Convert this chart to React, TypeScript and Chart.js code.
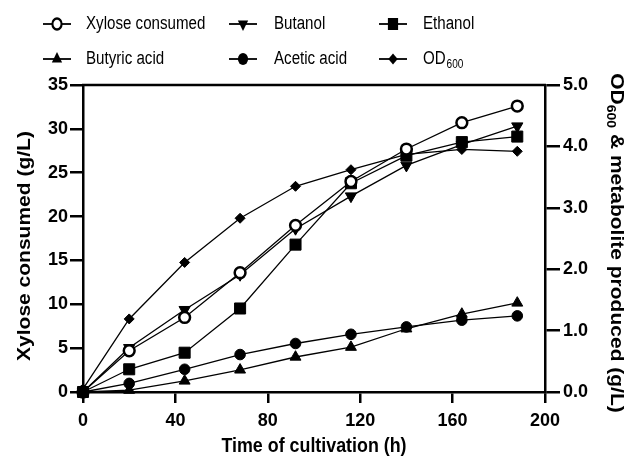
import React, { useEffect, useRef } from 'react';
import { Chart, registerables } from 'chart.js';

Chart.register(...registerables);

// ---- data ----
const hours = [0, 20, 44, 68, 92, 116, 140, 164, 188];
const xyloseConsumed = [0, 4.7, 8.5, 13.6, 19.0, 24.0, 27.7, 30.7, 32.6]; // left axis g/L
const butanol = [0, 0.72, 1.34, 1.91, 2.66, 3.19, 3.69, 4.03, 4.33]; // right axis
const ethanol = [0, 0.37, 0.64, 1.36, 2.4, 3.4, 3.85, 4.07, 4.16];
const butyricAcid = [0, 0.03, 0.18, 0.36, 0.57, 0.73, 1.03, 1.27, 1.45];
const aceticAcid = [0, 0.14, 0.37, 0.61, 0.79, 0.94, 1.06, 1.17, 1.24];
const od600 = [0.05, 1.19, 2.11, 2.83, 3.35, 3.62, 3.87, 3.95, 3.92];

const xTickValues = [0, 40, 80, 120, 160, 200];
const leftTickValues = [0, 5, 10, 15, 20, 25, 30, 35];
const rightTickValues = [0, 1, 2, 3, 4, 5];

const seriesLabels = ['Xylose consumed', 'Butanol', 'Ethanol', 'Butyric acid', 'Acetic acid', 'OD'];
const seriesMarkers = ['openCircle', 'downTri', 'square', 'upTri', 'circle', 'diamond'];

const xTitle = 'Time of cultivation (h)';
const leftTitle = 'Xylose consumed (g/L)';
const rightTitleMain = 'OD';
const rightTitleSub = '600';
const rightTitleRest = ' & metabolite produced (g/L)';

const FONT = 'Arial, "Liberation Sans", Helvetica, sans-serif';
const SQUEEZE = 0.85;

function drawMarker(ctx: CanvasRenderingContext2D, kind: string, x: number, y: number) {
  ctx.save();
  ctx.translate(x, y);
  ctx.scale(SQUEEZE, 1);
  ctx.fillStyle = '#000';
  ctx.strokeStyle = '#000';
  ctx.beginPath();
  if (kind === 'openCircle') {
    ctx.arc(0, 0, 5.4, 0, Math.PI * 2);
    ctx.fillStyle = '#fff';
    ctx.fill();
    ctx.lineWidth = 2.5;
    ctx.stroke();
  } else if (kind === 'circle') {
    ctx.arc(0, 0, 6, 0, Math.PI * 2);
    ctx.fill();
  } else if (kind === 'square') {
    ctx.rect(-6, -6, 12, 12);
    ctx.fill();
  } else if (kind === 'upTri' || kind === 'downTri') {
    const r = 7;
    const s = kind === 'upTri' ? 1 : -1;
    ctx.moveTo(0, -s * r);
    ctx.lineTo(r * Math.sin((2 * Math.PI) / 3), s * r * 0.5);
    ctx.lineTo(-r * Math.sin((2 * Math.PI) / 3), s * r * 0.5);
    ctx.closePath();
    ctx.fill();
  } else if (kind === 'diamond') {
    ctx.moveTo(0, -5.5);
    ctx.lineTo(5.5, 0);
    ctx.lineTo(0, 5.5);
    ctx.lineTo(-5.5, 0);
    ctx.closePath();
    ctx.fill();
  }
  ctx.restore();
}

const decorPlugin = {
  id: 'decor',
  afterDraw(chart: any) {
    const ctx: CanvasRenderingContext2D = chart.ctx;
    const area = chart.chartArea;
    ctx.save();
    // top border
    ctx.strokeStyle = '#000';
    ctx.lineWidth = 2.5;
    ctx.beginPath();
    ctx.moveTo(area.left - 1, area.top);
    ctx.lineTo(area.right + 1, area.top);
    ctx.stroke();

    // legend
    const colLine = [43, 229, 379];
    const colText = [86, 274, 423];
    const rowY = [24, 59];
    seriesLabels.forEach((label, i) => {
      const col = i % 3;
      const row = Math.floor(i / 3);
      const y = rowY[row];
      ctx.strokeStyle = '#000';
      ctx.lineWidth = 1.8;
      ctx.beginPath();
      ctx.moveTo(colLine[col], y);
      ctx.lineTo(colLine[col] + 28, y);
      ctx.stroke();
      drawMarker(ctx, seriesMarkers[i], colLine[col] + 14, y);
      ctx.save();
      ctx.translate(colText[col], y);
      ctx.scale(0.84, 1);
      ctx.fillStyle = '#000';
      ctx.font = `18px ${FONT}`;
      ctx.textAlign = 'left';
      ctx.textBaseline = 'middle';
      ctx.fillText(label, 0, 0);
      if (label === 'OD') {
        const w = ctx.measureText(label).width;
        ctx.font = `12px ${FONT}`;
        ctx.fillText('600', w + 1, 6);
      }
      ctx.restore();
    });

    // x title
    ctx.save();
    ctx.translate((area.left + area.right) / 2, 446);
    ctx.scale(SQUEEZE, 1);
    ctx.fillStyle = '#000';
    ctx.font = `bold 21px ${FONT}`;
    ctx.textAlign = 'center';
    ctx.textBaseline = 'middle';
    ctx.fillText(xTitle, 0, 0);
    ctx.restore();

    // left title
    ctx.save();
    ctx.translate(25, 246);
    ctx.rotate(-Math.PI / 2);
    ctx.scale(1, SQUEEZE);
    ctx.fillStyle = '#000';
    ctx.font = `bold 21px ${FONT}`;
    ctx.textAlign = 'center';
    ctx.textBaseline = 'middle';
    ctx.fillText(leftTitle, 0, 0);
    ctx.restore();

    // right title
    ctx.save();
    ctx.translate(616, 243);
    ctx.rotate(Math.PI / 2);
    ctx.scale(1, SQUEEZE);
    ctx.fillStyle = '#000';
    ctx.textAlign = 'left';
    ctx.textBaseline = 'middle';
    ctx.font = `bold 21px ${FONT}`;
    const w1 = ctx.measureText(rightTitleMain).width;
    const w3 = ctx.measureText(rightTitleRest).width;
    ctx.font = `bold 14px ${FONT}`;
    const w2 = ctx.measureText(rightTitleSub).width;
    const total = w1 + w2 + w3;
    let cx = -total / 2;
    ctx.font = `bold 21px ${FONT}`;
    ctx.fillText(rightTitleMain, cx, 0);
    cx += w1;
    ctx.font = `bold 14px ${FONT}`;
    ctx.fillText(rightTitleSub, cx, 7);
    cx += w2;
    ctx.font = `bold 21px ${FONT}`;
    ctx.fillText(rightTitleRest, cx, 0);
    ctx.restore();

    ctx.restore();
  },
};

function mkSet(label: string, values: number[], axis: string, style: string, radius: number, extra: any = {}) {
  return {
    label,
    data: hours.map((h, i) => ({ x: h, y: values[i] })),
    yAxisID: axis,
    borderColor: '#000',
    borderWidth: 1.3,
    pointStyle: style,
    pointRadius: radius,
    pointBackgroundColor: '#000',
    pointBorderColor: '#000',
    pointBorderWidth: 1,
    tension: 0,
    clip: false,
    ...extra,
  };
}

export default function App() {
  const ref = useRef<HTMLCanvasElement | null>(null);
  useEffect(() => {
    if (!ref.current) return;
    const axisCommon = (tl: number) => ({
      grid: {
        display: true,
        drawOnChartArea: false,
        drawTicks: true,
        tickLength: tl,
        tickColor: '#000',
        tickWidth: 2.5,
        lineWidth: 2.5,
        color: '#000',
      },
      border: { display: true, color: '#000', width: 2.5 },
    });
    const chart = new Chart(ref.current, {
      type: 'line',
      data: {
        datasets: [
          mkSet('Xylose consumed', xyloseConsumed, 'y', 'circle', 5.4, {
            pointBackgroundColor: (c: any) => (c.dataIndex === 0 ? '#000' : '#fff'),
            pointBorderWidth: 2.5,
          }),
          mkSet('Butanol', butanol, 'y1', 'triangle', 6.5, { pointRotation: 180 }),
          mkSet('Ethanol', ethanol, 'y1', 'rect', 7.8),
          mkSet('Butyric acid', butyricAcid, 'y1', 'triangle', 6.3),
          mkSet('Acetic acid', aceticAcid, 'y1', 'circle', 5.3),
          mkSet('OD600', od600, 'y1', 'rectRot', 5),
        ] as any,
      },
      options: {
        responsive: false,
        animation: false,
        devicePixelRatio: 1,
        layout: { padding: { top: 85, left: 0, right: 0, bottom: 0 } },
        plugins: { legend: { display: false }, tooltip: { enabled: false } },
        scales: {
          x: {
            type: 'linear',
            min: 0,
            max: 200,
            afterFit: (s: any) => { s.height = 71; },
            afterBuildTicks: (s: any) => { s.ticks = xTickValues.map((v) => ({ value: v })); },
            ticks: {
              color: '#000',
              font: { family: FONT, size: 18, weight: 'bold' },
              padding: 7,
              maxRotation: 0,
              autoSkip: false,
            },
            ...axisCommon(11),
          },
          y: {
            type: 'linear',
            position: 'left',
            min: 0,
            max: 35,
            afterFit: (s: any) => { s.width = 83; },
            afterBuildTicks: (s: any) => { s.ticks = leftTickValues.map((v) => ({ value: v })); },
            ticks: {
              color: '#000',
              font: { family: FONT, size: 18, weight: 'bold' },
              padding: 2,
              autoSkip: false,
            },
            ...axisCommon(13),
          },
          y1: {
            type: 'linear',
            position: 'right',
            min: 0,
            max: 5,
            afterFit: (s: any) => { s.width = 86; },
            afterBuildTicks: (s: any) => { s.ticks = rightTickValues.map((v) => ({ value: v })); },
            ticks: {
              color: '#000',
              font: { family: FONT, size: 18, weight: 'bold' },
              padding: 3,
              autoSkip: false,
              callback: (v: any) => Number(v).toFixed(1),
            },
            ...axisCommon(15),
          },
        },
      } as any,
      plugins: [decorPlugin],
    });
    return () => chart.destroy();
  }, []);
  return (
    <div style={{ position: 'fixed', left: 0, top: 0, width: 631, height: 463, background: '#fff' }}>
      <canvas ref={ref} width={631} height={463} style={{ width: 631, height: 463, display: 'block' }} />
    </div>
  );
}
